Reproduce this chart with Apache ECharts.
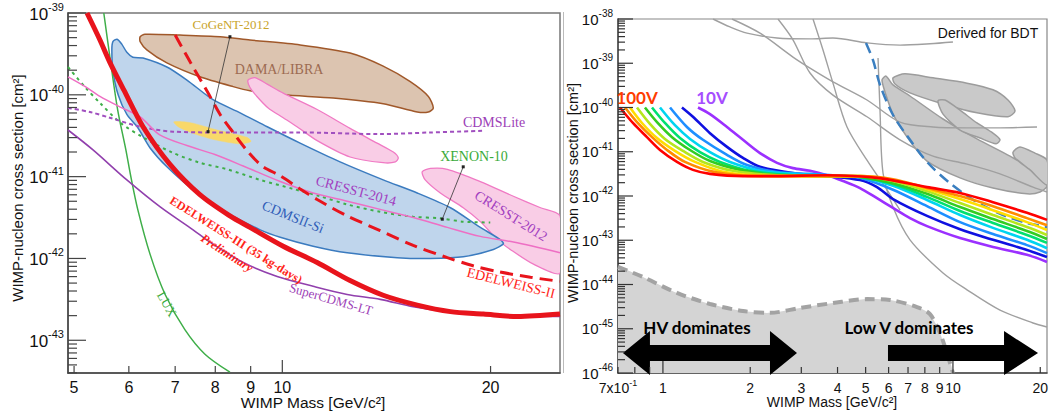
<!DOCTYPE html>
<html>
<head>
<meta charset="utf-8">
<script src="https://cdn.jsdelivr.net/npm/echarts@6.0.0/dist/echarts.min.js"></script>
<style>
html,body{margin:0;padding:0;background:#ffffff;}
#chart{width:1049px;height:414px;}
</style>
</head>
<body>
<div id="chart"></div>
<script>
// ================= LEFT PANEL (mass in GeV/c^2, log10 of cross section in cm^2) =================
const leftXTickValues = [5, 6, 7, 8, 9, 10, 20];
const leftXTickLabels = ['5', '6', '7', '8', '9', '10', '20'];
const leftYTickExponents = [-43, -42, -41, -40, -39];

const luxMass = [5.52, 5.64, 5.78, 5.94, 6.04, 6.18, 6.44, 6.77, 7.23, 7.73, 8.40];
const luxLogSigma = [-39.0, -39.57, -40.18, -40.67, -41.0, -41.40, -41.95, -42.44, -42.87, -43.17, -43.39];

const edw3Mass = [5.22, 5.45, 5.63, 5.90, 6.29, 6.88, 7.60, 8.40, 8.98, 10.03, 11.23, 12.53, 13.99, 15.67, 17.50, 19.53, 21.87, 25.2];
const edw3LogSigma = [-39.0, -39.33, -39.60, -39.94, -40.39, -40.85, -41.22, -41.48, -41.62, -41.85, -42.05, -42.27, -42.45, -42.57, -42.65, -42.68, -42.71, -42.68];

const edw2Mass = [7.00, 7.36, 7.79, 8.13, 8.49, 8.89, 9.35, 9.93, 10.61, 11.23, 12.41, 13.85, 15.46, 17.32, 18.88, 20.46, 22.84, 25.2];
const edw2LogSigma = [-39.27, -39.60, -39.96, -40.24, -40.46, -40.68, -40.87, -40.99, -41.15, -41.28, -41.48, -41.66, -41.84, -41.99, -42.09, -42.16, -42.23, -42.28];

const superCdmsMass = [4.90, 5.32, 5.96, 6.66, 7.43, 7.86, 8.78, 9.83, 11.08, 12.41, 13.85, 15.46, 17.32, 19.33, 22.84, 25.2];
const superCdmsLogSigma = [-40.43, -40.67, -41.04, -41.37, -41.65, -41.80, -42.05, -42.22, -42.34, -42.44, -42.50, -42.59, -42.65, -42.68, -42.71, -42.71];

const cdmsLiteMass = [4.90, 5.27, 5.63, 6.23, 6.95, 8.13, 10.61, 13.85, 16.37, 19.53];
const cdmsLiteLogSigma = [-40.16, -40.21, -40.28, -40.39, -40.45, -40.46, -40.46, -40.48, -40.46, -40.44];

const xenon10Mass = [4.90, 5.19, 5.45, 5.83, 6.29, 6.95, 7.60, 8.32, 9.29, 10.37, 11.34, 12.41, 13.85, 15.46, 16.92, 18.26, 19.98];
const xenon10LogSigma = [-39.66, -39.91, -40.10, -40.34, -40.52, -40.71, -40.83, -40.91, -41.04, -41.15, -41.24, -41.34, -41.43, -41.49, -41.51, -41.55, -41.56];

const cresst14Mass = [4.90, 5.19, 5.45, 5.83, 6.23, 6.65, 7.28, 7.99, 8.78, 9.93, 11.08, 12.41, 13.85, 15.46, 17.32, 19.33, 21.58, 25.2];
const cresst14LogSigma = [-39.78, -39.90, -40.02, -40.15, -40.27, -40.49, -40.62, -40.73, -40.87, -41.06, -41.20, -41.30, -41.40, -41.50, -41.62, -41.73, -41.80, -41.93];

// closed regions (outline vertices)
const cdmsSiMass = [5.69, 5.77, 5.86, 5.96, 6.08, 6.29, 6.81, 7.28, 7.94, 8.69, 9.51, 10.61, 12.12, 13.99, 15.67, 17.50, 19.33, 20.66, 20.87, 20.19, 18.26, 16.37, 14.66, 12.41, 11.08, 9.93, 9.29, 8.32, 7.43, 6.81, 6.44, 6.18, 5.96, 5.79, 5.69, 5.67];
const cdmsSiLogSigma = [-39.35, -39.32, -39.38, -39.48, -39.54, -39.55, -39.66, -39.82, -40.06, -40.22, -40.39, -40.59, -40.82, -41.04, -41.20, -41.38, -41.62, -41.77, -41.82, -41.89, -41.98, -42.00, -41.99, -41.93, -41.85, -41.74, -41.65, -41.44, -41.16, -40.88, -40.65, -40.40, -40.24, -40.00, -39.70, -39.45];

const damaMass = [6.23, 6.33, 7.11, 8.13, 8.98, 10.61, 12.53, 13.99, 15.31, 16.26, 16.53, 16.26, 15.67, 13.99, 11.84, 10.03, 8.98, 8.49, 7.60, 6.81, 6.37, 6.23];
const damaLogSigma = [-39.29, -39.26, -39.27, -39.29, -39.33, -39.39, -39.49, -39.65, -39.84, -40.02, -40.16, -40.21, -40.21, -40.11, -40.04, -40.00, -39.95, -39.90, -39.78, -39.61, -39.45, -39.35];

const cresst12aMass = [8.92, 9.13, 9.51, 10.03, 11.23, 12.53, 13.71, 14.47, 14.71, 14.57, 13.99, 12.53, 11.23, 10.50, 10.03, 9.54, 9.19, 8.98];
const cresst12aLogSigma = [-39.82, -39.79, -39.87, -39.98, -40.18, -40.41, -40.59, -40.70, -40.77, -40.82, -40.83, -40.76, -40.56, -40.39, -40.28, -40.16, -40.02, -39.91];

const cresst12bMass = [15.93, 16.37, 17.32, 19.33, 21.58, 23.62, 25.2, 25.2, 23.07, 21.36, 20.46, 19.33, 18.26, 16.92, 16.09];
const cresst12bLogSigma = [-40.94, -40.90, -40.91, -41.06, -41.24, -41.38, -41.48, -42.18, -42.07, -41.89, -41.77, -41.55, -41.38, -41.20, -41.04];

const cogentMass = [6.97, 7.36, 8.05, 8.89, 9.01, 8.69, 7.99, 7.48, 7.07];
const cogentLogSigma = [-40.33, -40.34, -40.43, -40.52, -40.57, -40.60, -40.55, -40.48, -40.39];

const cogentPointerMass = [8.40, 7.81];
const cogentPointerLogSigma = [-39.29, -40.45];
const xenonPointerMass = [18.26, 17.03];
const xenonPointerLogSigma = [-40.88, -41.52];

// ================= RIGHT PANEL =================
const rightXTickValues = [0.7, 0.8, 0.9, 1, 2, 3, 4, 5, 6, 7, 8, 9, 10, 20];
const rightXTickLabels = ['7x10^-1', '', '', '1', '2', '3', '4', '5', '6', '7', '8', '9', '10', '20'];
const rightYTickExponents = [-46, -45, -44, -43, -42, -41, -40, -39, -38];

const v100Mass = [0.711, 0.788, 0.881, 0.977, 1.118, 1.269, 1.453, 1.888, 2.474, 3.679, 5.472, 8.138, 10.58, 13.74, 18.00, 21.10];
const v100LogSigma = [-40.0, -40.35, -40.67, -40.96, -41.23, -41.41, -41.50, -41.55, -41.55, -41.53, -41.59, -41.80, -41.93, -42.14, -42.38, -42.54];
const v90Mass = [0.740, 0.814, 0.917, 1.033, 1.191, 1.512, 2.161, 4.178, 4.780, 6.213, 8.138, 10.58, 13.74, 18.00, 21.10];
const v90LogSigma = [-40.0, -40.33, -40.67, -40.96, -41.23, -41.46, -41.55, -41.55, -41.55, -41.62, -41.82, -42.0, -42.23, -42.50, -42.66];
const v80Mass = [0.770, 0.847, 0.954, 1.100, 1.290, 1.637, 2.474, 4.178, 4.780, 6.213, 8.138, 10.58, 13.74, 18.00, 21.10];
const v80LogSigma = [-40.0, -40.35, -40.69, -40.98, -41.23, -41.46, -41.55, -41.55, -41.55, -41.64, -41.84, -42.07, -42.32, -42.59, -42.77];
const v70Mass = [0.814, 0.902, 1.016, 1.172, 1.374, 1.744, 2.474, 4.178, 4.780, 6.213, 8.138, 10.58, 13.74, 18.00, 21.10];
const v70LogSigma = [-40.0, -40.37, -40.71, -40.98, -41.23, -41.43, -41.53, -41.55, -41.55, -41.66, -41.89, -42.16, -42.43, -42.70, -42.88];
const v60Mass = [0.867, 0.954, 1.075, 1.240, 1.453, 1.844, 2.474, 4.178, 4.780, 6.213, 8.138, 10.58, 13.74, 18.00, 21.10];
const v60LogSigma = [-40.0, -40.33, -40.67, -40.96, -41.21, -41.41, -41.53, -41.55, -41.57, -41.71, -41.95, -42.25, -42.52, -42.79, -42.97];
const v50Mass = [0.917, 1.016, 1.145, 1.342, 1.573, 1.996, 2.808, 4.178, 4.780, 6.213, 8.138, 10.58, 13.74, 18.00, 21.10];
const v50LogSigma = [-40.0, -40.35, -40.69, -41.01, -41.23, -41.43, -41.53, -41.55, -41.57, -41.73, -42.02, -42.34, -42.61, -42.88, -43.06];
const v40Mass = [0.977, 1.100, 1.240, 1.453, 1.703, 2.161, 2.808, 4.178, 4.780, 6.213, 8.138, 10.58, 13.74, 18.00, 21.10];
const v40LogSigma = [-40.0, -40.40, -40.71, -41.01, -41.23, -41.43, -41.50, -41.55, -41.57, -41.77, -42.09, -42.43, -42.72, -42.99, -43.18];
const v30Mass = [1.058, 1.210, 1.374, 1.663, 1.949, 2.474, 3.215, 4.178, 4.780, 6.213, 8.138, 10.58, 13.74, 18.00, 21.10];
const v30LogSigma = [-40.0, -40.44, -40.73, -41.07, -41.30, -41.46, -41.50, -41.55, -41.59, -41.86, -42.23, -42.59, -42.86, -43.11, -43.29];
const v20Mass = [1.163, 1.269, 1.453, 1.663, 1.888, 2.161, 2.808, 3.679, 4.780, 5.472, 6.213, 8.138, 10.58, 13.74, 18.00, 21.10];
const v20LogSigma = [-40.0, -40.21, -40.58, -40.89, -41.14, -41.34, -41.48, -41.55, -41.64, -41.80, -42.07, -42.45, -42.75, -42.99, -43.22, -43.38];
const v10Mass = [1.321, 1.453, 1.663, 1.888, 2.161, 2.474, 2.808, 3.215, 3.679, 4.178, 4.780, 5.472, 6.213, 7.110, 8.138, 10.58, 13.74, 18.00, 21.10];
const v10LogSigma = [-40.0, -40.15, -40.44, -40.73, -41.03, -41.25, -41.37, -41.43, -41.53, -41.66, -41.82, -42.05, -42.27, -42.50, -42.68, -42.95, -43.15, -43.33, -43.49];

const gray1Mass = [1.488, 1.703, 1.949, 2.474, 3.215, 3.858, 5.053, 6.568, 8.334, 10.0];
const gray1LogSigma = [-38.0, -38.18, -38.32, -38.43, -38.45, -38.43, -38.54, -38.59, -38.56, -38.52];
const gray2Mass = [1.730, 2.161, 2.808, 3.215, 3.858, 5.053, 6.568, 8.535, 11.18, 14.53, 19.49];
const gray2LogSigma = [-38.0, -38.32, -38.86, -39.11, -39.42, -39.83, -40.33, -40.44, -40.46, -40.46, -40.44];
const gray3Mass = [2.493, 2.808, 3.215, 3.858, 5.053, 6.568, 8.535, 11.18, 14.53, 18.88, 21.10];
const gray3LogSigma = [-38.0, -38.47, -39.22, -39.72, -40.21, -40.73, -41.10, -41.28, -41.50, -41.80, -41.91];
const gray4Mass = [3.292, 3.564, 3.858, 4.313, 5.053, 5.925, 6.568];
const gray4LogSigma = [-38.0, -38.70, -39.45, -40.44, -41.19, -41.86, -42.32];
const gray5Mass = [5.517, 5.604, 5.739, 6.213, 7.110, 9.242, 11.18, 14.53, 18.88, 21.10];
const gray5LogSigma = [-38.88, -40.06, -41.48, -42.25, -42.99, -43.74, -44.12, -44.58, -44.87, -44.96];

const blob1Mass = [6.213, 6.834, 8.535, 11.18, 13.74, 15.48, 16.37, 15.48, 12.10, 9.242, 7.110, 6.313];
const blob1LogSigma = [-39.33, -39.24, -39.33, -39.45, -39.60, -39.83, -40.08, -40.21, -40.12, -39.92, -39.67, -39.47];
const blob2Mass = [8.880, 9.389, 10.58, 12.10, 13.74, 14.53, 14.08, 12.40, 10.58, 9.242];
const blob2LogSigma = [-39.85, -39.83, -40.06, -40.35, -40.58, -40.73, -40.82, -40.69, -40.51, -40.15];
const blob3Mass = [5.693, 5.877, 6.213, 7.110, 9.242, 12.10, 15.73, 19.49, 21.10, 19.96, 18.00, 13.74, 10.58, 8.138, 7.110, 6.213, 5.877];
const blob3LogSigma = [-39.38, -39.29, -39.49, -39.74, -40.26, -40.71, -41.10, -41.46, -41.77, -41.91, -41.95, -41.82, -41.59, -41.21, -40.76, -40.15, -39.72];
const blob4Mass = [16.11, 17.03, 19.18, 21.10, 21.10, 18.44, 16.37];
const blob4LogSigma = [-41.01, -40.89, -41.03, -41.19, -41.75, -41.41, -41.14];

const bdtDashedMass = [5.014, 5.302, 5.604, 6.213, 7.110, 8.138, 9.768, 12.10, 14.88, 18.00, 21.10];
const bdtDashedLogSigma = [-38.54, -38.93, -39.49, -40.17, -40.73, -41.23, -41.71, -42.14, -42.43, -42.61, -42.70];

const floorMass = [0.700, 0.853, 1.118, 1.453, 1.888, 2.339, 2.969, 3.858, 5.053, 6.066, 7.516, 8.334, 9.022, 9.539, 10.0];
const floorLogSigma = [-43.60, -43.83, -44.19, -44.44, -44.60, -44.64, -44.53, -44.42, -44.33, -44.35, -44.51, -44.67, -45.10, -45.55, -46.0];

const arrowFromMass = [0.728, 5.97];
const arrowToMass = [2.899, 19.65];
const arrowLogSigma = [-45.55, -45.55];
const arrowDoubleHeaded = [true, false];

// ================= helpers =================
const P = v => Math.pow(10, v);
const pairs = (m, e) => m.map((x, i) => [x, P(e[i])]);
const SANS = 'Liberation Sans';
const SERIF = 'Liberation Serif';

function lineS(gi, m, e, color, width, type, z) {
  return {
    type: 'line', xAxisIndex: gi, yAxisIndex: gi, data: pairs(m, e), symbol: 'none',
    smooth: 0.3, silent: true, clip: true, z: z || 3,
    lineStyle: { color: color, width: width, type: type || 'solid', cap: 'butt' }
  };
}

function polyS(gi, polys, z) {
  return {
    type: 'custom', xAxisIndex: gi, yAxisIndex: gi, silent: true, clip: true, z: z || 2,
    data: polys.map(p => [p.m[0], P(p.e[0])]),
    renderItem: (params, api) => {
      const p = polys[params.dataIndex];
      const pts = p.m.map((x, i) => api.coord([x, P(p.e[i])]));
      if (p.close) p.close.forEach(c => pts.push(api.coord([c[0], P(c[1])])));
      return { type: 'polygon', shape: { points: pts, smooth: p.smooth === undefined ? 0.25 : p.smooth },
        style: { fill: p.fill, stroke: p.stroke, lineWidth: p.lw } };
    }
  };
}

function yTicksS(gi, xMin, exps, lo, hi, cfg) {
  const items = [];
  for (let d = Math.floor(lo); d <= Math.ceil(hi); d++) {
    for (let k = 1; k <= 9; k++) {
      const lv = d + Math.log10(k);
      if (lv < lo - 1e-9 || lv > hi + 1e-9) continue;
      items.push({ v: k * P(d), major: k === 1 && exps.indexOf(d) >= 0, d: d });
    }
  }
  return {
    type: 'custom', xAxisIndex: gi, yAxisIndex: gi, silent: true, clip: false, z: 10,
    data: items.map(t => [xMin, t.v]),
    renderItem: (params, api) => {
      const t = items[params.dataIndex];
      const p = api.coord([api.value(0), api.value(1)]);
      const ch = [{ type: 'line', shape: { x1: p[0], y1: p[1], x2: p[0] + (t.major ? cfg.maj : cfg.min), y2: p[1] },
        style: { stroke: cfg.color, lineWidth: 1.2 } }];
      if (t.major) {
        ch.push({ type: 'text', x: p[0] - cfg.gap, y: p[1] + (cfg.dy || 0),
          style: { text: '{a|10}{b|' + t.d + '}', align: 'right', verticalAlign: 'middle', fill: '#111',
            rich: { a: { fontSize: cfg.fa, lineHeight: cfg.la, fontFamily: SANS, fill: '#111' },
                    b: { fontSize: cfg.fb, lineHeight: cfg.lb, verticalAlign: 'top', fontFamily: SANS, fill: '#111' } } } });
      }
      return { type: 'group', children: ch };
    }
  };
}

function xTicksS(gi, yMin, vals, labels, majors, cfg) {
  return {
    type: 'custom', xAxisIndex: gi, yAxisIndex: gi, silent: true, clip: false, z: 10,
    data: vals.map(v => [v, yMin]),
    renderItem: (params, api) => {
      const i = params.dataIndex;
      const p = api.coord([api.value(0), api.value(1)]);
      const len = majors.indexOf(vals[i]) >= 0 ? cfg.maj : cfg.min;
      const ch = [{ type: 'line', shape: { x1: p[0], y1: p[1], x2: p[0], y2: p[1] - len },
        style: { stroke: cfg.color, lineWidth: 1.2 } }];
      const lab = labels[i];
      if (lab) {
        const parts = lab.split('^');
        const txt = parts.length > 1 ? '{a|' + parts[0] + '}{b|' + parts[1] + '}' : '{a|' + lab + '}';
        ch.push({ type: 'text', x: p[0], y: p[1] + cfg.off,
          style: { text: txt, align: 'center', verticalAlign: 'middle', fill: '#111',
            rich: { a: { fontSize: cfg.fa, lineHeight: cfg.la, fontFamily: SANS, fill: '#111' },
                    b: { fontSize: cfg.fb, lineHeight: cfg.lb, verticalAlign: 'top', fontFamily: SANS, fill: '#111' } } } });
      }
      return { type: 'group', children: ch };
    }
  };
}

const LX = [4.9, 25.2], LY = [-43.4, -39];
const RX = [0.7, 21.1], RY = [-46, -38];

const rainbow = [
  [v10Mass, v10LogSigma, '#9b30ff'],
  [v20Mass, v20LogSigma, '#1010e0'],
  [v30Mass, v30LogSigma, '#1e8fff'],
  [v40Mass, v40LogSigma, '#00d4f0'],
  [v50Mass, v50LogSigma, '#00e070'],
  [v60Mass, v60LogSigma, '#33cc22'],
  [v70Mass, v70LogSigma, '#b5e61d'],
  [v80Mass, v80LogSigma, '#ffdd00'],
  [v90Mass, v90LogSigma, '#ff8c00'],
  [v100Mass, v100LogSigma, '#ff0000']
];

const series = [];
// ---- left panel regions
series.push(polyS(0, [
  { m: damaMass, e: damaLogSigma, fill: '#dcc4b0', stroke: '#a0582a', lw: 1.5 },
  { m: cresst12aMass, e: cresst12aLogSigma, fill: '#f9cde6', stroke: '#f07ac4', lw: 1.3 },
  { m: cresst12bMass, e: cresst12bLogSigma, fill: '#f9cde6', stroke: '#f07ac4', lw: 1.3 },
  { m: cdmsSiMass, e: cdmsSiLogSigma, fill: '#bfd5ec', stroke: '#3b7bbf', lw: 1.5 },
  { m: cogentMass, e: cogentLogSigma, fill: '#f8d86a', stroke: '#f8d86a', lw: 0.5 }
], 2));
// ---- left panel curves
series.push(lineS(0, luxMass, luxLogSigma, '#3fae49', 1.5));
series.push(lineS(0, xenon10Mass, xenon10LogSigma, '#3fae49', 2, [3, 4]));
series.push(lineS(0, cdmsLiteMass, cdmsLiteLogSigma, '#a04fbf', 2, [4, 3]));
series.push(lineS(0, cresst14Mass, cresst14LogSigma, '#ee6fc4', 1.5));
series.push(lineS(0, superCdmsMass, superCdmsLogSigma, '#9140ad', 1.6));
series.push(lineS(0, edw2Mass, edw2LogSigma, '#e8141c', 3, [13, 7]));
series.push(lineS(0, edw3Mass, edw3LogSigma, '#e8141c', 5));
series.push(Object.assign(lineS(0, cogentPointerMass, cogentPointerLogSigma, '#333', 0.8), { smooth: false, symbol: ['none', 'circle'], symbolSize: 3, itemStyle: { color: '#222' }, z: 6 }));
series.push(Object.assign(lineS(0, xenonPointerMass, xenonPointerLogSigma, '#333', 0.8), { smooth: false, symbol: ['none', 'circle'], symbolSize: 3, itemStyle: { color: '#222' }, z: 6 }));

// ---- right panel
series.push(polyS(1, [
  { m: floorMass, e: floorLogSigma, close: [[9.9, -46.8], [0.6, -46.8], [0.6, -43.55]], fill: '#d4d4d4', stroke: 'none', lw: 0 }
], 1));
series.push(lineS(1, floorMass, floorLogSigma, '#a3a3a3', 4, [10, 6], 2));
series.push(polyS(1, [
  { m: blob1Mass, e: blob1LogSigma, fill: '#c9c9c9', stroke: '#9c9c9c', lw: 1.5 },
  { m: blob3Mass, e: blob3LogSigma, fill: '#c9c9c9', stroke: '#9c9c9c', lw: 1.5 },
  { m: blob4Mass, e: blob4LogSigma, fill: '#c9c9c9', stroke: '#9c9c9c', lw: 1.5 },
  { m: blob2Mass, e: blob2LogSigma, fill: '#c9c9c9', stroke: '#9c9c9c', lw: 1.5 }
], 2));
[[gray1Mass, gray1LogSigma], [gray2Mass, gray2LogSigma], [gray3Mass, gray3LogSigma], [gray4Mass, gray4LogSigma], [gray5Mass, gray5LogSigma]]
  .forEach(g => series.push(lineS(1, g[0], g[1], '#a0a0a0', 1.4)));
series.push(lineS(1, bdtDashedMass, bdtDashedLogSigma, '#3b7fc0', 2.5, [11, 6], 4));
rainbow.forEach(r => series.push(lineS(1, r[0], r[1], r[2], 2.6, 'solid', 5)));
series.push({
  type: 'custom', xAxisIndex: 1, yAxisIndex: 1, silent: true, clip: false, z: 7,
  data: arrowFromMass.map((m, i) => [m, P(arrowLogSigma[i])]),
  renderItem: (params, api) => {
    const i = params.dataIndex;
    const a = api.coord([arrowFromMass[i], P(arrowLogSigma[i])]);
    const b = api.coord([arrowToMass[i], P(arrowLogSigma[i])]);
    const y = a[1], sh = 8, hh = 22;
    let pts;
    if (arrowDoubleHeaded[i]) {
      const hl = 27;
      pts = [[a[0], y], [a[0] + hl, y - hh], [a[0] + hl, y - sh], [b[0] - hl, y - sh], [b[0] - hl, y - hh], [b[0], y],
             [b[0] - hl, y + hh], [b[0] - hl, y + sh], [a[0] + hl, y + sh], [a[0] + hl, y + hh]];
    } else {
      const hl = 34;
      pts = [[a[0], y - sh], [b[0] - hl, y - sh], [b[0] - hl, y - hh], [b[0], y], [b[0] - hl, y + hh], [b[0] - hl, y + sh], [a[0], y + sh]];
    }
    return { type: 'polygon', shape: { points: pts }, style: { fill: '#000' } };
  }
});

// ---- ticks & tick labels
series.push(yTicksS(0, LX[0], leftYTickExponents, LY[0], LY[1], { maj: 18, min: 9, color: '#444', gap: 4, dy: 1, fa: 17, la: 25, fb: 11, lb: 13 }));
series.push(xTicksS(0, P(LY[0]), leftXTickValues, leftXTickLabels, [10], { maj: 13, min: 7, color: '#444', off: 14, fa: 16, la: 20, fb: 10, lb: 10 }));
series.push(yTicksS(1, RX[0], rightYTickExponents, RY[0], RY[1], { maj: 15, min: 7, color: '#333', gap: 5, dy: 0, fa: 15, la: 21, fb: 10, lb: 11 }));
series.push(xTicksS(1, P(RY[0]), rightXTickValues, rightXTickLabels, [1, 10], { maj: 12, min: 6, color: '#333', off: 15, fa: 14, la: 20, fb: 9, lb: 10 }));

function axisBase(gi, type, min, max) {
  return { type: 'log', logBase: 10, gridIndex: gi, min: min, max: max,
    axisLine: { show: true, onZero: false, lineStyle: { color: '#444', width: 1.5 } },
    axisTick: { show: false }, axisLabel: { show: false }, splitLine: { show: false }, minorTick: { show: false } };
}

const t = (text, x, y, color, size, opts) => Object.assign({
  type: 'text', x: x, y: y, silent: true, z: 20,
  style: Object.assign({ text: text, fill: color, fontSize: size, fontFamily: SERIF, align: 'center', verticalAlign: 'middle' }, (opts && opts.style) || {})
}, (opts && opts.rot) ? { rotation: -opts.rot * Math.PI / 180 } : {});

const graphic = [
  { type: 'line', shape: { x1: 563.5, y1: 12, x2: 563.5, y2: 373 }, style: { stroke: '#bbb', lineWidth: 1 }, silent: true },
  t('CoGeNT-2012', 231, 24, '#c9a42a', 13),
  t('DAMA/LIBRA', 279, 69, '#9d6b52', 14),
  t('CDMSLite', 494, 122, '#9d3fb7', 14),
  t('XENON-10', 474, 156, '#3aaa3a', 14),
  t('CRESST-2014', 356, 191, '#a23fc0', 14, { rot: 15 }),
  t('CDMSII-Si', 293, 217, '#2f5db8', 14, { rot: 22 }),
  t('CRESST-2012', 511, 216, '#a23fc0', 14, { rot: 32 }),
  t('EDELWEISS-III (35 kg-days)', 236, 240, '#ff2418', 12, { rot: 32, style: { fontWeight: 'bold' } }),
  t('Preliminary', 227, 253, '#ff2418', 12, { rot: 33, style: { fontWeight: 'bold', fontStyle: 'italic' } }),
  t('LUX', 167, 304, '#3aaa3a', 13, { rot: 60 }),
  t('SuperCDMS-LT', 331, 299, '#9d3fb7', 13, { rot: 16 }),
  t('EDELWEISS-II', 511, 283, '#ff2418', 14, { rot: 14 }),
  t('WIMP-nucleon cross section [cm²]', 17, 188, '#111', 15, { style: { fontFamily: SANS } }),
  t('WIMP Mass [GeV/c²]', 313, 402, '#111', 15.5, { style: { fontFamily: SANS } }),
  t('100V', 637, 97, '#ff3c00', 17, { style: { fontFamily: 'Lato', fontWeight: 'bold' } }),
  t('10V', 712, 97, '#a64dff', 17, { style: { fontFamily: 'Lato', fontWeight: 'bold' } }),
  t('Derived for BDT', 988, 33, '#111', 14, { style: { fontFamily: SANS } }),
  t('HV dominates', 697, 327, '#000', 17, { style: { fontFamily: 'Lato', fontWeight: 'bold' } }),
  t('Low V dominates', 909, 327, '#000', 17, { style: { fontFamily: 'Lato', fontWeight: 'bold' } }),
  t('WIMP-nucleon cross section [cm²]', 573, 193, '#111', 14.5, { style: { fontFamily: SANS } }),
  t('WIMP Mass [GeV/c²]', 832, 402, '#111', 14, { style: { fontFamily: SANS } })
];
graphic[13].rotation = Math.PI / 2;
graphic[20].rotation = Math.PI / 2;

const chart = echarts.init(document.getElementById('chart'), null, { renderer: 'svg', width: 1049, height: 414 });
chart.setOption({
  animation: false,
  backgroundColor: '#ffffff',
  textStyle: { fontFamily: SANS },
  grid: [
    { left: 68, top: 13, width: 492, height: 360, show: true, borderColor: '#777', borderWidth: 1.5, backgroundColor: 'transparent', containLabel: false },
    { left: 618, top: 19, width: 429, height: 354, show: true, borderColor: '#888', borderWidth: 1.2, backgroundColor: 'transparent', containLabel: false }
  ],
  xAxis: [axisBase(0, 'x', LX[0], LX[1]), axisBase(1, 'x', RX[0], RX[1])],
  yAxis: [axisBase(0, 'y', P(LY[0]), P(LY[1])), axisBase(1, 'y', P(RY[0]), P(RY[1]))],
  series: series,
  graphic: graphic
});
</script>
</body>
</html>
